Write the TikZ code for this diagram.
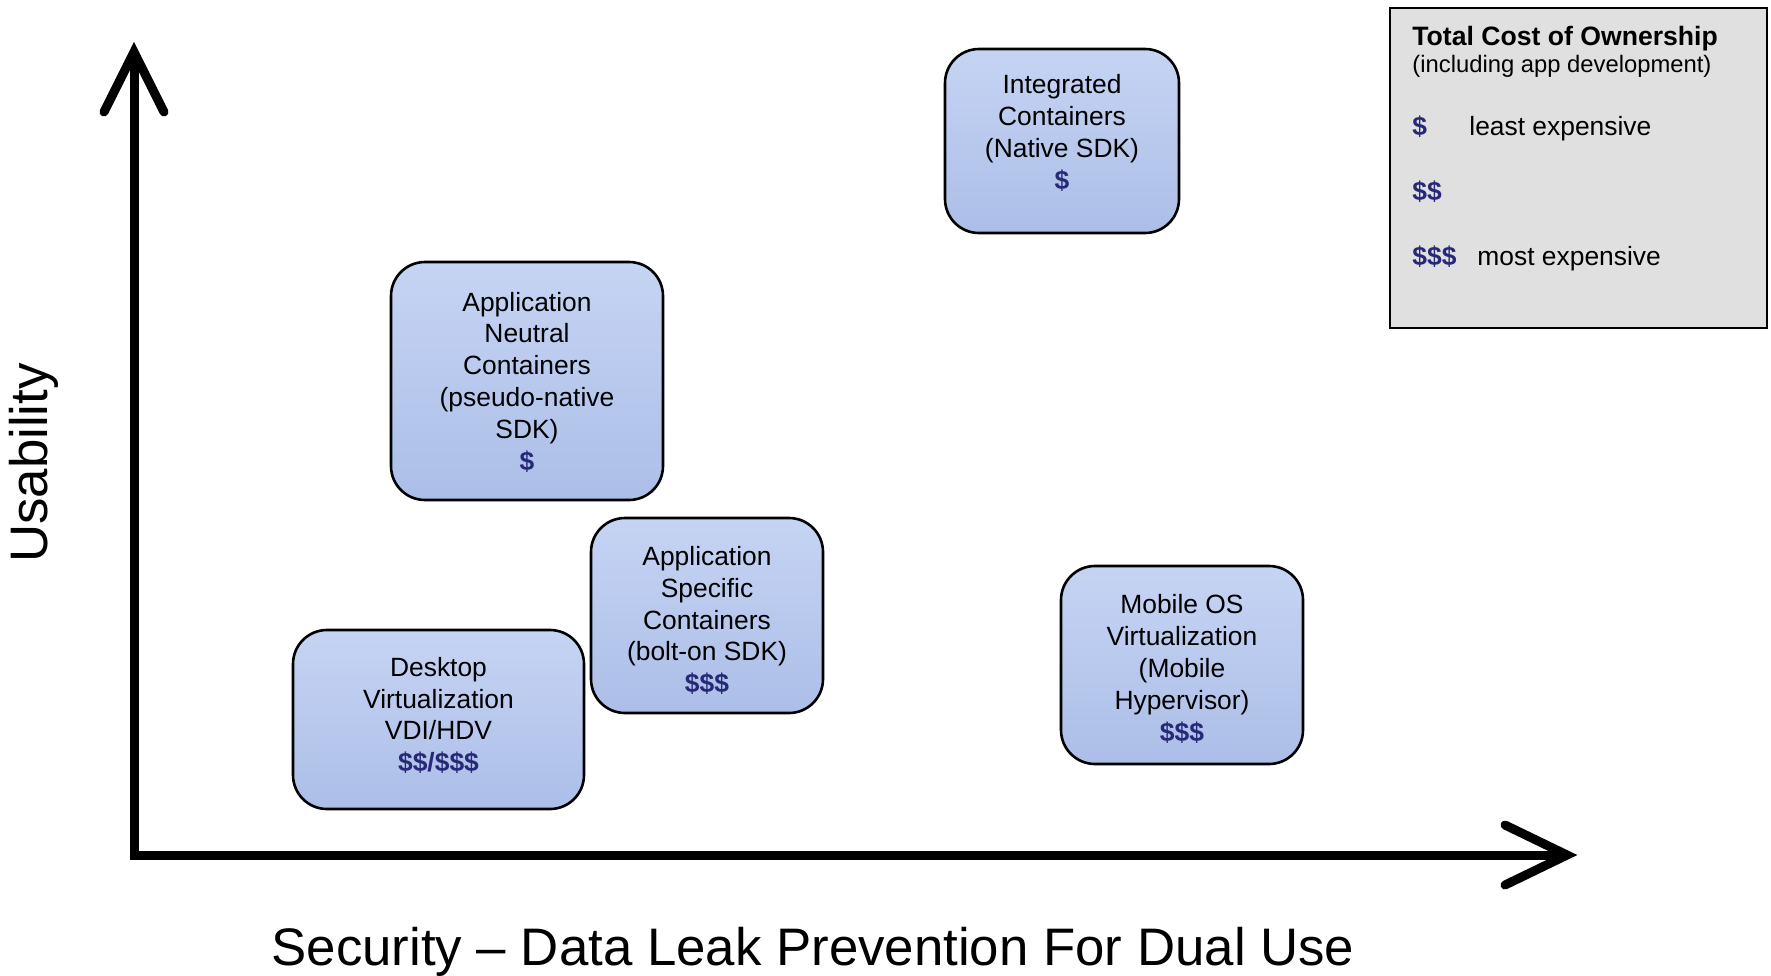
\documentclass[tikz,border=0pt]{standalone}
\usepackage{fontspec}
\setmainfont{Liberation Sans}
\usepackage{xcolor}
\definecolor{costblue}{RGB}{40,40,120}
\definecolor{boxtop}{RGB}{198,212,243}
\definecolor{boxmid}{RGB}{228,235,252}
\definecolor{boxbottom}{RGB}{172,190,232}
\definecolor{legendgray}{RGB}{224,224,224}
\newcommand{\cost}[1]{{\color{costblue}\bfseries #1}}

\tikzset{
  techbox/.style={draw=black, line width=1.3pt, rounded corners=17pt,
    top color=boxtop, middle color=boxmid, bottom color=boxbottom, inner sep=0pt},
  techtext/.style={align=center, inner sep=0pt, font=\fontsize{13.2}{15.9}\selectfont},
  axisline/.style={line width=4.5pt, line join=miter},
  axiswing/.style={line width=4.5pt, line join=miter, line cap=round},
  axislabel/.style={font=\fontsize{26.4}{30}\selectfont, inner sep=0pt},
  legendtext/.style={anchor=base west, inner sep=0pt, font=\fontsize{13.2}{15.9}\selectfont},
}

\begin{document}
\begin{tikzpicture}[x=0.5pt, y=-0.5pt]
  \useasboundingbox (0,0) rectangle (1771,975);

  \coordinate (origin) at (134,855);
  \coordinate (ytip) at (134,52);
  \coordinate (xtip) at (1567,855);
  \draw[axisline] (ytip) -- (origin) -- (xtip);
  \draw[axiswing] ([shift={(-30,60)}]ytip) -- (ytip) -- ([shift={(30,60)}]ytip);
  \draw[axiswing] ([shift={(-62,-30)}]xtip) -- (xtip) -- ([shift={(-62,30)}]xtip);

  \node[axislabel, rotate=90] (ylabel) at (34,463) {Usability};
  \node[axislabel] (xlabel) at (813,952) {Security – Data Leak Prevention For Dual Use};

  \node[techbox, minimum width=117pt, minimum height=92pt] (integrated) at (1062,141) {};
  \node[techtext] (integratedtext) at ([yshift=4pt]integrated.center)
    {Integrated\\Containers\\(Native SDK)\\\cost{\$}};
  \node[techbox, minimum width=136pt, minimum height=119pt] (neutral) at (527,381) {};
  \node[techtext] (neutraltext) at ([yshift=-0.5pt]neutral.center)
    {Application\\Neutral\\Containers\\(pseudo-native\\SDK)\\\cost{\$}};
  \node[techbox, minimum width=116pt, minimum height=97.5pt] (specific) at (707,615.5) {};
  \node[techtext] (specifictext) at ([yshift=-2.5pt]specific.center)
    {Application\\Specific\\Containers\\(bolt-on SDK)\\\cost{\$\$\$}};
  \node[techbox, minimum width=145.5pt, minimum height=89.5pt] (desktop) at (438.5,719.5) {};
  \node[techtext] (desktoptext) at ([yshift=2pt]desktop.center)
    {Desktop\\Virtualization\\VDI/HDV\\\cost{\$\$/\$\$\$}};
  \node[techbox, minimum width=121pt, minimum height=99pt] (mobileos) at (1182,665) {};
  \node[techtext] (mobileostext) at ([yshift=-2pt]mobileos.center)
    {Mobile OS\\Virtualization\\(Mobile\\Hypervisor)\\\cost{\$\$\$}};

  \node[draw=black, line width=1pt, fill=legendgray, minimum width=188.5pt,
    minimum height=160pt, inner sep=0pt] (legend) at (1578.5,168) {};
  \node[legendtext, font=\bfseries\fontsize{13.3}{16}\selectfont] (tcotitle) at (1412,45) {Total Cost of Ownership};
  \node[legendtext, font=\fontsize{11.9}{14}\selectfont] (tcosub) at (1412,72) {(including app development)};
  \node[legendtext] (lowcost) at (1412,135) {\cost{\$}};
  \node[legendtext] (lowtext) at (1469,135) {least expensive};
  \node[legendtext] (midcost) at (1412,200) {\cost{\$\$}};
  \node[legendtext] (highcost) at (1412,265) {\cost{\$\$\$}};
  \node[legendtext] (hightext) at (1477,265) {most expensive};
\end{tikzpicture}
\end{document}
